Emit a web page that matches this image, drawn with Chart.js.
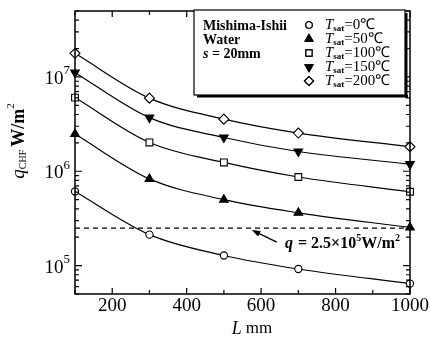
<!DOCTYPE html>
<html>
<head>
<meta charset="utf-8">
<script src="https://cdn.jsdelivr.net/npm/chart.js@4.4.1/dist/chart.umd.min.js"></script>
<style>
  html, body { margin: 0; padding: 0; background: #fff; }
  #wrap { width: 430px; height: 338px; }
</style>
</head>
<body>
<div id="wrap"><canvas id="chf" width="430" height="338"></canvas></div>
<script>
// heated length L (mm) and critical heat flux q_CHF (W/m2) per saturation temperature
const lengths = [100, 300, 500, 700, 1000];
const q0 = [6.1e5, 2.13e5, 1.28e5, 9.2e4, 6.45e4];
const q50 = [2.48e6, 8.3e5, 5.0e5, 3.63e5, 2.54e5];
const q100 = [6.04e6, 2.02e6, 1.24e6, 8.7e5, 6.07e5];
const q150 = [1.11e7, 3.7e6, 2.28e6, 1.62e6, 1.19e6];
const q200 = [1.78e7, 5.96e6, 3.57e6, 2.54e6, 1.82e6];
const qLimit = 2.5e5;
const xTicks = [200, 400, 600, 800, 1000];
const yTicks = [5, 6, 7]; // exponents of labelled decades
const tempLabels = ['0', '50', '100', '150', '200'];

const serif = '"Liberation Serif", "Times New Roman", serif';

const series = [
  { data: q0, style: 'circle', radius: 3.6, rot: 0, fill: '#fff' },
  { data: q50, style: 'triangle', radius: 5, rot: 0, fill: '#000' },
  { data: q100, style: 'rect', radius: 4.8, rot: 0, fill: '#fff' },
  { data: q150, style: 'triangle', radius: 5, rot: 180, fill: '#000' },
  { data: q200, style: 'rectRot', radius: 5, rot: 0, fill: '#fff' }
];

function toPoints(vals) {
  return lengths.map((l, i) => ({ x: l, y: vals[i] }));
}

// draws a row of text pieces with their own font / vertical offset
function drawRuns(ctx, x, y, runs, align) {
  let total = 0;
  runs.forEach(r => { ctx.font = r.font; total += ctx.measureText(r.t).width + (r.dx || 0); });
  let cx = align === 'right' ? x - total : align === 'center' ? x - total / 2 : x;
  runs.forEach(r => {
    ctx.font = r.font;
    ctx.fillText(r.t, cx, y + (r.dy || 0));
    cx += ctx.measureText(r.t).width + (r.dx || 0);
  });
}

const datasets = series.map(s => ({
  data: toPoints(s.data),
  borderColor: '#000',
  borderWidth: 1.2,
  cubicInterpolationMode: 'monotone',
  pointStyle: s.style,
  pointRadius: s.radius,
  pointRotation: s.rot,
  pointBackgroundColor: s.fill,
  pointBorderColor: '#000',
  pointBorderWidth: 1.1,
  clip: false
}));
datasets.push({
  data: [{ x: 100, y: qLimit }, { x: 1000, y: qLimit }],
  borderColor: '#000',
  borderWidth: 1.2,
  borderDash: [5, 4],
  pointRadius: 0,
  clip: false
});

const framePlugin = {
  id: 'frame',
  afterDatasetsDraw(chart) {
    const { ctx, chartArea: a, scales: { x, y } } = chart;
    ctx.save();
    ctx.strokeStyle = '#000';
    ctx.fillStyle = '#000';
    ctx.lineWidth = 1.5;
    ctx.strokeRect(a.left, a.top, a.right - a.left, a.bottom - a.top);

    // inward ticks on all four sides
    ctx.lineWidth = 1.2;
    ctx.beginPath();
    for (let v = 100; v <= 1000; v += 100) {
      const px = x.getPixelForValue(v);
      const len = v % 200 === 0 ? 6 : 4;
      ctx.moveTo(px, a.bottom); ctx.lineTo(px, a.bottom - len);
      ctx.moveTo(px, a.top); ctx.lineTo(px, a.top + len);
    }
    for (let e = 4; e <= 7; e++) {
      for (let m = 1; m <= 9; m++) {
        const v = m * Math.pow(10, e);
        if (v < y.min || v > y.max) continue;
        const py = y.getPixelForValue(v);
        const len = m === 1 ? 7 : 4;
        ctx.moveTo(a.left, py); ctx.lineTo(a.left + len, py);
        ctx.moveTo(a.right, py); ctx.lineTo(a.right - len, py);
      }
    }
    ctx.stroke();

    // tick labels
    ctx.textBaseline = 'middle';
    ctx.textAlign = 'left';
    xTicks.forEach(v => {
      drawRuns(ctx, x.getPixelForValue(v), a.bottom + 12, [{ t: String(v), font: '19px ' + serif }], 'center');
    });
    yTicks.forEach(e => {
      const py = y.getPixelForValue(Math.pow(10, e)) + 2;
      drawRuns(ctx, a.left - 5, py, [
        { t: '10', font: '19px ' + serif },
        { t: String(e), font: '13px ' + serif, dy: -8 }
      ], 'right');
    });

    // axis titles
    drawRuns(ctx, 252, 329, [
      { t: 'L', font: 'italic 18px ' + serif, dx: 4 },
      { t: 'mm', font: '17px ' + serif }
    ], 'center');
    ctx.save();
    ctx.translate(19, 141);
    ctx.rotate(-Math.PI / 2);
    drawRuns(ctx, 0, 0, [
      { t: 'q', font: 'italic 19px ' + serif },
      { t: 'CHF', font: '10px ' + serif, dy: 4, dx: 3 },
      { t: 'W/m', font: 'bold 18px ' + serif },
      { t: '2', font: '11px ' + serif, dy: -8 }
    ], 'center');
    ctx.restore();

    // reference line note with arrow
    const tipX = x.getPixelForValue(575);
    const tipY = y.getPixelForValue(qLimit) + 2;
    const tailX = tipX + 25, tailY = tipY + 12;
    const ang = Math.atan2(tipY - tailY, tipX - tailX);
    ctx.beginPath();
    ctx.moveTo(tailX, tailY);
    ctx.lineTo(tipX + 6 * Math.cos(ang + Math.PI), tipY + 6 * Math.sin(ang + Math.PI));
    ctx.lineWidth = 1.5;
    ctx.stroke();
    ctx.beginPath();
    ctx.moveTo(tipX, tipY);
    ctx.lineTo(tipX - 9 * Math.cos(ang - 0.35), tipY - 9 * Math.sin(ang - 0.35));
    ctx.lineTo(tipX - 9 * Math.cos(ang + 0.35), tipY - 9 * Math.sin(ang + 0.35));
    ctx.closePath();
    ctx.fill();
    drawRuns(ctx, 285, 244, [
      { t: 'q', font: 'bold italic 16px ' + serif, dx: 1 },
      { t: ' = 2.5×10', font: 'bold 16px ' + serif },
      { t: '5', font: 'bold 10px ' + serif, dy: -6 },
      { t: 'W/m', font: 'bold 16px ' + serif },
      { t: '2', font: 'bold 10px ' + serif, dy: -6 }
    ], 'left');

    // legend box with drop shadow
    const bx = 194, by = 10, bw = 211, bh = 85;
    ctx.fillStyle = '#fff';
    ctx.fillRect(bx, by, bw, bh);
    ctx.fillStyle = '#000';
    ctx.fillRect(bx + 3, by + bh, bw, 2.5);
    ctx.fillRect(bx + bw, by + 3, 2.5, bh);
    ctx.lineWidth = 1.2;
    ctx.strokeRect(bx, by, bw, bh);

    drawRuns(ctx, 203, 26, [{ t: 'Mishima-Ishii', font: 'bold 14px ' + serif }], 'left');
    drawRuns(ctx, 203, 40, [{ t: 'Water', font: 'bold 14px ' + serif }], 'left');
    drawRuns(ctx, 203, 54, [
      { t: 's', font: 'bold italic 14px ' + serif },
      { t: ' = 20mm', font: 'bold 14px ' + serif }
    ], 'left');

    series.forEach((s, i) => {
      const ry = 25 + i * 14;
      Chart.helpers.drawPoint(ctx, {
        pointStyle: s.style, radius: s.radius * 0.9, rotation: s.rot, borderWidth: 1.1
      }, 309, ry);
      ctx.fillStyle = s.fill;
      ctx.fill();
      ctx.fillStyle = '#000';
      ctx.stroke();
      drawRuns(ctx, 325, ry, [
        { t: 'T', font: 'italic 15px ' + serif },
        { t: 'sat', font: 'bold 9px ' + serif, dy: 4 },
        { t: '=' + tempLabels[i] + '℃', font: '15px ' + serif }
      ], 'left');
    });
    ctx.restore();
  }
};

new Chart(document.getElementById('chf'), {
  type: 'line',
  data: { datasets },
  options: {
    responsive: false,
    animation: false,
    layout: { padding: { left: 75, right: 20, top: 11, bottom: 44 } },
    plugins: { legend: { display: false }, tooltip: { enabled: false } },
    scales: {
      x: { type: 'linear', min: 100, max: 1000, display: false },
      y: { type: 'logarithmic', min: 5e4, max: 5e7, display: false }
    }
  },
  plugins: [framePlugin]
});
</script>
</body>
</html>
